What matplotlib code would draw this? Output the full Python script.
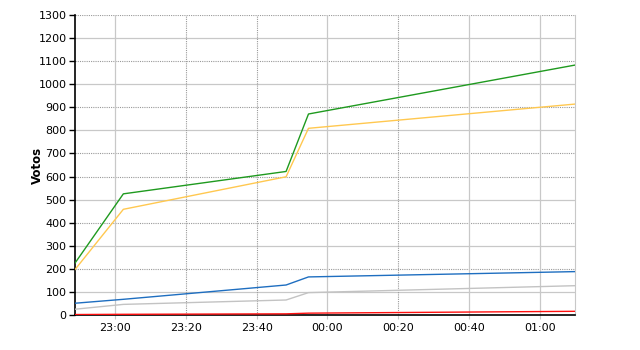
import matplotlib
matplotlib.use('Agg')
import matplotlib.pyplot as plt
import matplotlib.dates as mdates
import pandas as pd

times = pd.to_datetime(['2000-01-01 22:48:40', '2000-01-01 23:02:20', '2000-01-01 23:48:20',
                        '2000-01-01 23:54:40', '2000-01-02 01:10:00'])
green = [225, 525, 622, 871, 1083]
yellow = [197, 458, 599, 809, 914]
blue = [51, 68, 130, 165, 188]
grey = [25, 46, 65, 97, 127]
red = [2, 3, 5, 8, 16]

series = [(green, '#1f9a1f'), (yellow, '#ffc850'), (blue, '#1e6ec0'),
          (grey, '#c3c3c3'), (red, '#ff1010')]

# which gridlines look solid (rest are dotted), as in the original render
y_solid = {100, 300, 500, 800, 1000, 1200}
x_solid = {'23:00', '00:00', '00:40', '01:00'}


def main():
    fig = plt.figure(figsize=(6.4, 3.5), dpi=100)
    ax = fig.add_axes([75 / 640, 35 / 350, 500 / 640, 300 / 350])

    for vals, col in series:
        ax.plot(times, vals, color=col, lw=1.0, zorder=3)

    ax.set_xlim(times[0], times[-1])
    ax.set_ylim(0, 1300)
    ax.set_yticks(range(0, 1301, 100))
    ax.xaxis.set_major_locator(mdates.MinuteLocator(byminute=[0, 20, 40]))
    ax.xaxis.set_major_formatter(mdates.DateFormatter('%H:%M'))

    # gridlines: mix of solid light grey and dotted darker grey
    for v in range(100, 1301, 100):
        if v in y_solid:
            ax.axhline(v, color='#c8c8c8', lw=0.9, zorder=1)
        else:
            ax.axhline(v, color='#999999', lw=0.8, ls=(0, (1, 1)), zorder=1)
    for t in ax.get_xticks():
        lab = mdates.num2date(t).strftime('%H:%M')
        if lab in x_solid:
            ax.axvline(t, color='#c8c8c8', lw=0.9, zorder=1)
        else:
            ax.axvline(t, color='#999999', lw=0.8, ls=(0, (1, 1)), zorder=1)

    ax.spines['top'].set_visible(False)
    ax.spines['right'].set_color('#c8c8c8')
    ax.spines['left'].set_linewidth(1.2)
    ax.spines['bottom'].set_linewidth(1.2)

    ax.tick_params(axis='y', length=4, width=1, labelsize=8, pad=2)
    ax.tick_params(axis='x', length=3, width=0.8, color='#c8c8c8', labelsize=8, pad=3)
    ax.set_ylabel('Votos', fontsize=8.5, fontweight='bold', labelpad=-4)

    fig.savefig('out.png', dpi=100)


if __name__ == '__main__':
    main()
